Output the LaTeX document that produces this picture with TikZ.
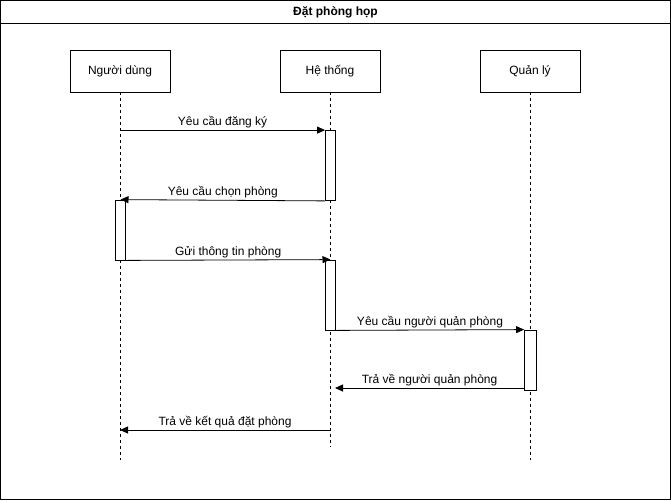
\documentclass[tikz,border=0pt]{standalone}
\usepackage{fontspec}
\setmainfont{Liberation Sans}
\usetikzlibrary{arrows.meta}
\tikzset{>={Triangle[width=7pt,length=8pt]}}
\tikzset{
  actor/.style={draw, fill=white, minimum width=100pt, minimum height=42pt, font=\fontsize{12pt}{14pt}\selectfont},
  bar/.style={draw, fill=white, minimum width=10pt, inner sep=0pt},
  lifeline/.style={dash pattern=on 3pt off 3pt},
  msg/.style={font=\fontsize{12pt}{14pt}\selectfont, above, inner sep=2pt}
}

\begin{document}
\begin{tikzpicture}[x=1pt,y=-1pt,line width=0.8pt]

  \useasboundingbox (0,0) rectangle (671,501);

  \draw (0.5,0.5) rectangle (670.5,499.5);
  \draw (0.5,23) -- (670.5,23);
  \node[font=\bfseries\fontsize{12pt}{14pt}\selectfont] (title) at (335.5,12) {Đặt phòng họp};

  \node[actor] (user) at (120,71) {Người dùng};
  \node[actor] (sys) at (330,71) {Hệ thống};
  \node[actor] (mgr) at (530,71) {Quản lý};

  \coordinate (userEnd) at (120,460);
  \coordinate (sysEnd) at (330,447);
  \coordinate (mgrEnd) at (530,460);

  \draw[lifeline] (user.south) -- (userEnd);
  \draw[lifeline] (sys.south) -- (sysEnd);
  \draw[lifeline] (mgr.south) -- (mgrEnd);

  \node[bar, minimum height=70pt] (act1) at (330.5,165.5) {};
  \node[bar, minimum height=60pt] (act2) at (120.5,230) {};
  \node[bar, minimum height=70pt] (act3) at (330.5,295) {};
  \node[bar, minimum height=60pt, minimum width=12pt] (act4) at (530.5,360) {};

  \coordinate (ret5) at (335,388);
  \coordinate (ret6) at (330,430);

  \draw[->] (user.south |- act1.north) -- node[msg] {Yêu cầu đăng ký} (act1.north west);
  \draw[->] (act1.south west) -- node[msg] {Yêu cầu chọn phòng} (act2.north);
  \draw[->] (act2.south east) -- node[msg] {Gửi thông tin phòng} (act3.north);
  \draw[->] (act3.south east) -- node[msg] {Yêu cầu người quản phòng} (act4.north west);
  \draw[->] (act4.west |- ret5) -- node[msg] {Trả về người quản phòng} (ret5);
  \draw[->] (ret6) -- node[msg] {Trả về kết quả đặt phòng} (user.south |- ret6);

\end{tikzpicture}
\end{document}
